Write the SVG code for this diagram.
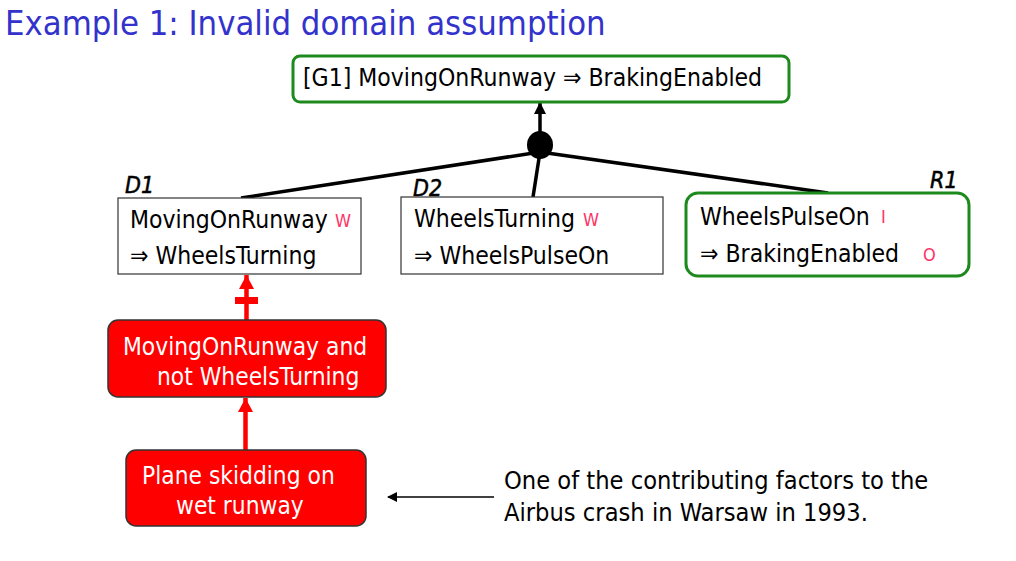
<svg xmlns="http://www.w3.org/2000/svg" width="1016" height="561" viewBox="0 0 1016 561">
<style>
text{font-family:"DejaVu Sans Condensed","DejaVu Sans",sans-serif;}
.t{font-size:24.5px;fill:#000;}
.n{font-size:25.2px;fill:#000;}
.w{font-size:24.3px;fill:#fff;}
.tag{font-size:18px;fill:#ff3366;}
.lbl{font-size:23px;font-style:italic;fill:#000;stroke:#000;stroke-width:0.5;}
.gbox{fill:#fff;stroke:#1e8a1e;stroke-width:3;}
.dbox{fill:#fff;stroke:#333;stroke-width:1.2;}
.rbox{fill:#ff0000;stroke:#333;stroke-width:1.5;}
.ln{stroke:#000;stroke-width:3.5;fill:none;}
.rl{stroke:#ff0000;stroke-width:4.5;fill:none;}
</style>
<defs>
<marker id="ah" markerWidth="10" markerHeight="10" refX="9" refY="5" orient="auto" markerUnits="userSpaceOnUse"><path d="M0,0 L10,5 L0,10 Z" fill="#000"/></marker>
<marker id="ahk" markerWidth="12" markerHeight="12" refX="12" refY="6" orient="auto" markerUnits="userSpaceOnUse"><path d="M0,0 L12,6 L0,12 Z" fill="#000"/></marker>
<marker id="ahr" markerWidth="14" markerHeight="15" refX="14" refY="7.5" orient="auto" markerUnits="userSpaceOnUse"><path d="M0,0 L14,7.5 L0,15 Z" fill="#ff0000"/></marker>
</defs>
<rect width="1016" height="561" fill="#fff"/>
<text x="5" y="35" style="font-size:34.3px;fill:#3333cc;">Example 1: Invalid domain assumption</text>

<g id="connectors">
<line class="ln" x1="540" y1="132" x2="540" y2="102" marker-end="url(#ahk)"/>
<line class="ln" x1="540" y1="152" x2="241" y2="198"/>
<line class="ln" x1="540" y1="152" x2="533" y2="197"/>
<line class="ln" x1="540" y1="152" x2="828" y2="193"/>
<line class="rl" x1="246.5" y1="320" x2="246.5" y2="275" marker-end="url(#ahr)"/>
<line x1="235" y1="300.5" x2="258" y2="300.5" stroke="#ff0000" stroke-width="7"/>
<line class="rl" x1="245.5" y1="450" x2="245.5" y2="398" marker-end="url(#ahr)"/>
<line x1="494" y1="497" x2="388" y2="497" stroke="#000" stroke-width="1.5" marker-end="url(#ah)"/>
</g>

<g id="and">
<ellipse cx="540" cy="145" rx="13" ry="14" fill="#000"/>
</g>

<g id="G1">
<rect class="gbox" x="293" y="56" width="496" height="46" rx="7"/>
<text class="t" x="303" y="86">[G1] MovingOnRunway ⇒ BrakingEnabled</text>
</g>

<g id="D1">
<text class="lbl" x="125" y="193">D1</text>
<rect class="dbox" x="118" y="198" width="243" height="76"/>
<text class="t" x="130" y="228">MovingOnRunway</text>
<text class="tag" x="335" y="227">W</text>
<text class="t" x="130" y="264">⇒ WheelsTurning</text>
</g>

<g id="D2">
<text class="lbl" x="413" y="196">D2</text>
<rect class="dbox" x="401" y="197" width="262" height="77"/>
<text class="t" x="414" y="227">WheelsTurning</text>
<text class="tag" x="583" y="226">W</text>
<text class="t" x="414" y="264">⇒ WheelsPulseOn</text>
</g>

<g id="R1">
<text class="lbl" x="930" y="188">R1</text>
<rect class="gbox" x="686" y="193" width="283" height="83" rx="12"/>
<text class="t" x="700" y="225">WheelsPulseOn</text>
<text class="tag" x="881" y="223">I</text>
<text class="t" x="700" y="262">⇒ BrakingEnabled</text>
<text class="tag" x="923" y="261">O</text>
</g>

<g id="F1">
<rect class="rbox" x="108" y="320" width="278" height="77" rx="10"/>
<text class="w" x="123" y="355">MovingOnRunway and</text>
<text class="w" x="157" y="385">not WheelsTurning</text>
</g>

<g id="F2">
<rect class="rbox" x="126" y="450" width="240" height="76" rx="10"/>
<text class="w" x="142" y="484">Plane skidding on</text>
<text class="w" x="176" y="514">wet runway</text>
</g>

<g id="note">
<text class="n" x="504" y="489">One of the contributing factors to the</text>
<text class="n" x="504" y="521">Airbus crash in Warsaw in 1993.</text>
</g>
</svg>
